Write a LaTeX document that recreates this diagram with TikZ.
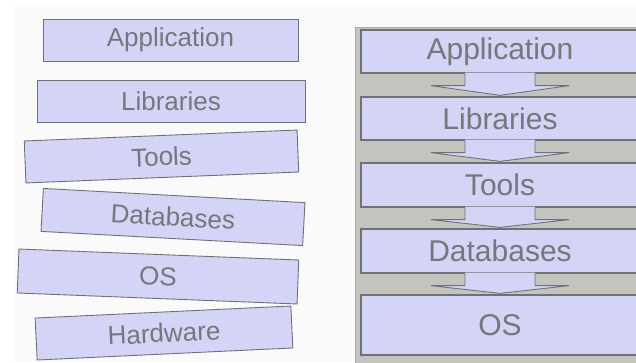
\documentclass[tikz,border=0pt]{standalone}
\usepackage{fontspec}
\setmainfont{Liberation Sans}
\usetikzlibrary{calc}
\definecolor{lav}{RGB}{212,212,246}
\definecolor{edge}{RGB}{112,112,120}
\definecolor{txt}{RGB}{118,118,126}
\definecolor{panel}{RGB}{196,196,190}
\definecolor{paper}{RGB}{250,250,250}
\tikzset{
  lbox/.style={draw=edge, line width=0.9pt, fill=lav, text=txt, inner sep=0pt,
    minimum height=42pt, font=\fontsize{26}{26}\selectfont},
  rbox/.style={draw=edge, line width=1.3pt, fill=lav, text=txt, inner sep=0pt,
    minimum width=278pt, font=\fontsize{30}{30}\selectfont},
  arrfill/.style={fill=lav, draw=none},
  arrline/.style={draw=edge, line width=0.9pt, line join=miter},
}
\begin{document}
\begin{tikzpicture}[x=1pt,y=-1pt]
\clip (0,0) rectangle (636,362);
\fill[white] (0,0) rectangle (636,362);
\fill[paper] (14,7) rectangle (636,362);
% left stack
\node[lbox, minimum width=255pt] (la) at (170.5,40) {Application};
\node[lbox, minimum width=268pt] (ll) at (171,101) {Libraries};
\node[lbox, minimum width=273pt, rotate=2.3] (lt) at (161.5,156.5) {Tools};
\node[lbox, minimum width=262pt, minimum height=43pt, rotate=-3.1] (ld) at (173,217) {Databases};
\node[lbox, minimum width=280pt, minimum height=44pt, rotate=-2.25] (lo) at (158,276.5) {OS};
\node[lbox, minimum width=256pt, rotate=2.7] (lh) at (164,333) {Hardware};
% right panel
\fill[panel] (355,27) rectangle (640,365);
\draw[edge!60, line width=0.8pt] (355.4,365) -- (355.4,27.4) -- (640,27.4);
\node[rbox, minimum height=43pt] (ra) at (500,51.5) {Application};
\node[rbox, minimum height=43pt] (rl) at (500,118.5) {Libraries};
\node[rbox, minimum height=44pt] (rt) at (500,185) {Tools};
\node[rbox, minimum height=44pt] (rd) at (500,251) {Databases};
\node[rbox, minimum height=60pt] (ro) at (500,325) {OS};
% block arrows between layers
\foreach \u/\v in {ra/rl, rl/rt, rt/rd, rd/ro}{
  \coordinate (s) at (\u.south);
  \coordinate (t) at (\v.north);
  \fill[arrfill] ($(s)+(-35,-1)$) -- ($(s)+(-35,12)$) -- ($(s)+(-69,12)$)
     -- ($(t)+(0,-1)$) -- ($(s)+(69,12)$) -- ($(s)+(35,12)$) -- ($(s)+(35,-1)$) -- cycle;
  \draw[arrline] ($(s)+(-35,0)$) -- ($(s)+(-35,12)$) -- ($(s)+(-69,12)$)
     -- ($(t)+(0,-1)$) -- ($(s)+(69,12)$) -- ($(s)+(35,12)$) -- ($(s)+(35,0)$);
}
\end{tikzpicture}
\end{document}
